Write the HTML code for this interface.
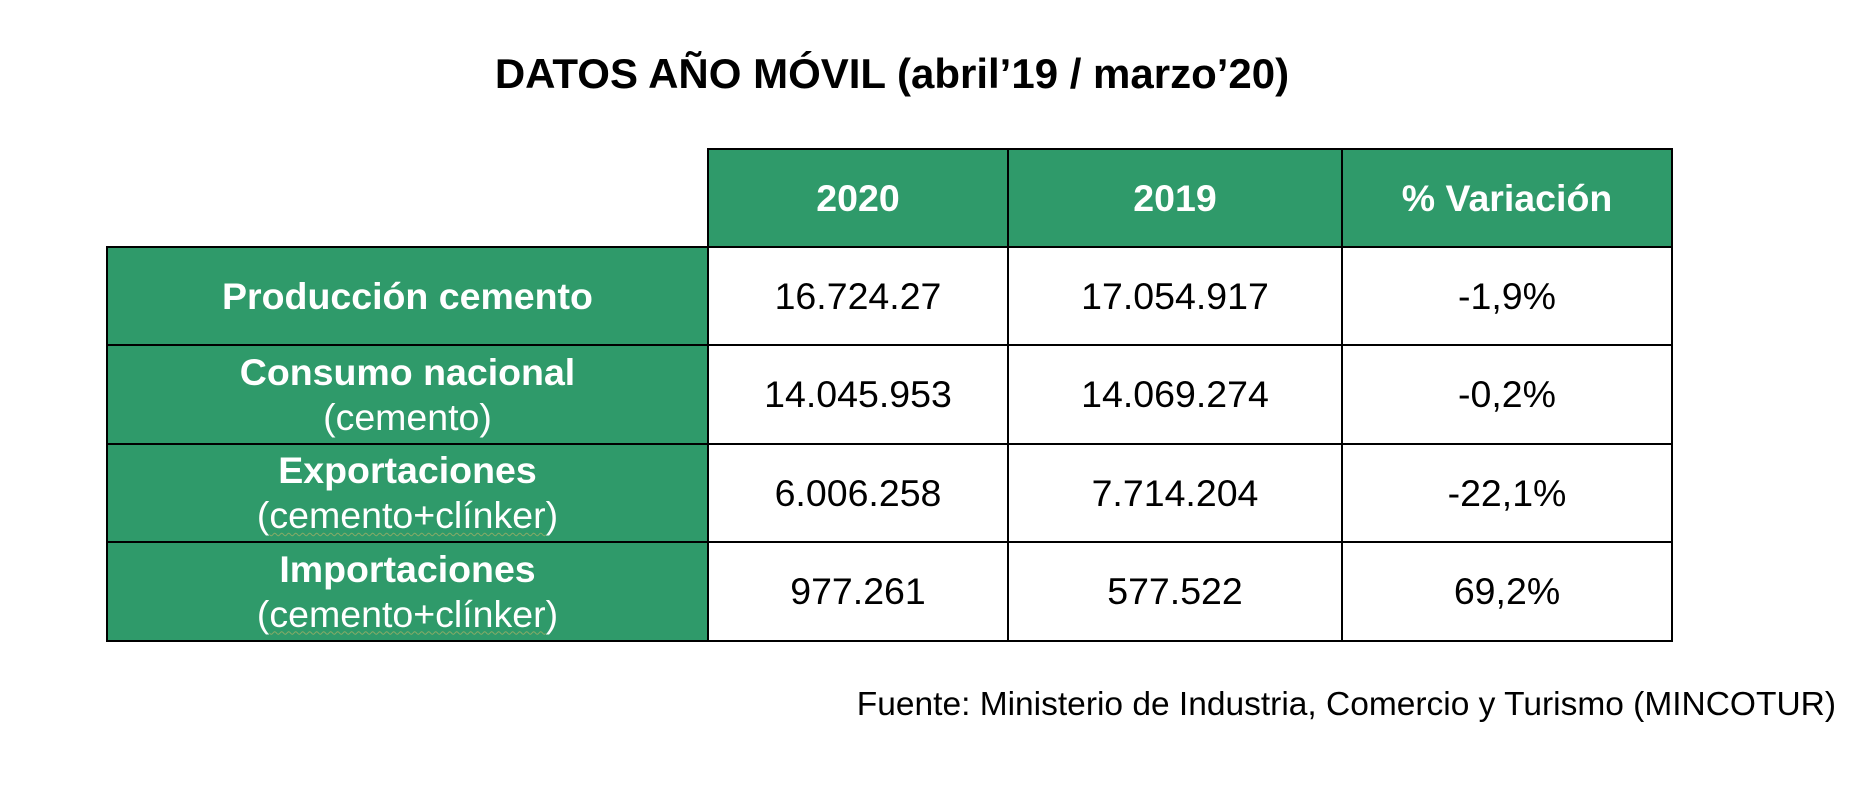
<!DOCTYPE html>
<html><head><meta charset="utf-8"><style>
body{margin:0;width:1862px;height:788px;background:#fff;font-family:"Liberation Sans",sans-serif;position:relative;overflow:hidden}
.t{position:absolute;left:0;width:1784px;top:50px;text-align:center;font-weight:bold;font-size:42px;color:#000}
table{position:absolute;left:106px;top:148px;border-collapse:collapse}
td{border:2px solid #000;text-align:center;font-size:37.5px;color:#000;padding:0;line-height:45px}
.g{background:#2f9a6a;color:#fff}
.h{font-weight:bold}
.e{border:none;background:transparent}
.s{position:absolute;right:26px;top:686px;font-size:33.5px;color:#000}
u{text-decoration:underline wavy #8a6;text-underline-offset:4px;text-decoration-thickness:1px}
</style></head><body>
<div class="t">DATOS AÑO MÓVIL (abril’19 / marzo’20)</div>
<table>
<tr style="height:98px">
<td class="e" style="width:600px"></td>
<td class="g h" style="width:298px">2020</td>
<td class="g h" style="width:332px">2019</td>
<td class="g h" style="width:328px">% Variación</td></tr>
<tr style="height:98px"><td class="g h">Producción cemento</td><td>16.724.27</td><td>17.054.917</td><td>-1,9%</td></tr>
<tr style="height:99px"><td class="g"><b>Consumo nacional</b><br>(cemento)</td><td>14.045.953</td><td>14.069.274</td><td>-0,2%</td></tr>
<tr style="height:98px"><td class="g"><b>Exportaciones</b><br>(<u>cemento+clínker</u>)</td><td>6.006.258</td><td>7.714.204</td><td>-22,1%</td></tr>
<tr style="height:99px"><td class="g"><b>Importaciones</b><br>(<u>cemento+clínker</u>)</td><td>977.261</td><td>577.522</td><td>69,2%</td></tr>
</table>
<div class="s">Fuente: Ministerio de Industria, Comercio y Turismo (MINCOTUR)</div>
</body></html>
